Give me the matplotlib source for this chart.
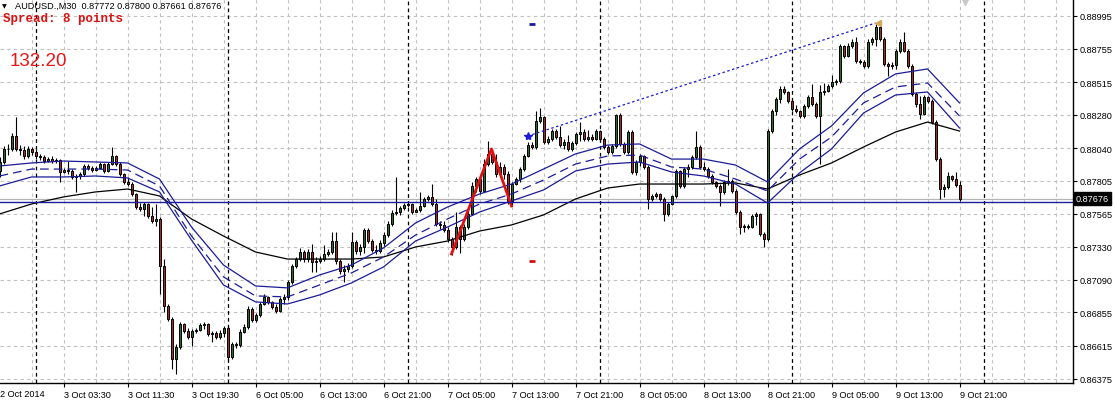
import matplotlib.pyplot as plt
import numpy as np
from matplotlib.transforms import blended_transform_factory

# AUDUSD M30 candles, prices in points (1e-5); open of a bar = close of the bar before
first_open = 87875
close_pts = [
    87940, 88034, 88034, 88127, 88034, 88026, 87983, 88034, 88012, 87983,
    87976, 87947, 87961, 87947, 87954, 87868, 87882, 87875, 87832, 87839,
    87853, 87911, 87897, 87882, 87897, 87925, 87875, 87925, 87983, 87925,
    87853, 87796, 87781, 87709, 87615, 87601, 87637, 87550, 87514, 87529,
    87190, 86902, 86808, 86519, 86606, 86772, 86721, 86678, 86721, 86728,
    86765, 86772, 86700, 86707, 86678, 86707, 86743, 86534, 86627, 86620,
    86714, 86750, 86880, 86801, 86837, 86916, 86967, 86931, 86895, 86866,
    86952, 86967, 87075, 87190, 87240, 87291, 87240, 87291, 87219, 87226,
    87240, 87277, 87291, 87370, 87226, 87154, 87168, 87190, 87363, 87298,
    87327, 87450, 87370, 87305, 87298, 87356, 87413, 87493, 87572, 87579,
    87608, 87630, 87637, 87579, 87594, 87623, 87673, 87688, 87637, 87493,
    87486, 87450, 87385, 87327, 87471, 87385, 87471, 87565, 87767, 87817,
    87731, 87925, 87998, 87940, 87853, 87904, 87853, 87659, 87781, 87817,
    87889, 87983, 88062, 88048, 88236, 88265, 88084, 88106, 88163, 88120,
    88062, 88084, 88034, 88077, 88142, 88156, 88106, 88120, 88106, 88163,
    88106, 88048, 88012, 88055, 88279, 88070, 88012, 88156, 87868, 87940,
    87983, 87904, 87673, 87695, 87709, 87673, 87565, 87637, 87695, 87875,
    87767, 87889, 87904, 87976, 88048, 87904, 87889, 87839, 87796, 87767,
    87724, 87796, 87803, 87731, 87579, 87471, 87478, 87471, 87550, 87565,
    87421, 87385, 88163, 88308, 88394, 88466, 88445, 88380, 88322, 88308,
    88272, 88344, 88409, 88358, 88272, 88445, 88452, 88488, 88517, 88524,
    88776, 88704, 88776, 88805, 88668, 88661, 88632, 88805, 88827, 88913,
    88827, 88647, 88632, 88640, 88740, 88805, 88740, 88632, 88430, 88358,
    88286, 88409, 88380, 88228, 87961, 87745, 87760, 87839, 87817, 87772,
    87676,
]
high_pts = [
    87976, 88055, 88070, 88149, 88265, 88062, 88055, 88055, 88048, 88034,
    87998, 87990, 87976, 87983, 87969, 87961, 87897, 87947, 87889, 87853,
    87868, 87925, 87925, 87911, 87911, 87940, 87933, 87940, 88048, 87990,
    87940, 87861, 87832, 87796, 87716, 87644, 87651, 87644, 87615, 87637,
    87543, 87240, 86916, 86822, 86627, 86786, 86779, 86743, 86736, 86743,
    86779, 86786, 86779, 86721, 86721, 86728, 86757, 86757, 86642, 86642,
    86736, 86772, 86902, 86895, 86851, 86931, 86988, 86974, 86938, 86916,
    86967, 86988, 87089, 87205, 87255, 87320, 87305, 87313, 87349, 87255,
    87262, 87341, 87313, 87435, 87435, 87240, 87197, 87212, 87435, 87377,
    87349, 87464, 87464, 87385, 87341, 87377, 87435, 87514, 87594, 87832,
    87623, 87644, 87651, 87644, 87608, 87724, 87688, 87702, 87781, 87673,
    87514, 87514, 87471, 87399, 87579, 87486, 87493, 87586, 87796, 87832,
    87832, 87961, 88091, 88034, 87998, 87940, 87925, 87875, 87796, 87832,
    87904, 87998, 88084, 88084, 88308, 88330, 88272, 88127, 88178, 88178,
    88200, 88106, 88135, 88091, 88156, 88228, 88178, 88171, 88142, 88178,
    88171, 88120, 88062, 88070, 88286, 88293, 88084, 88171, 88171, 87954,
    87998, 87990, 87918, 87709, 87724, 87716, 87688, 87651, 87702, 87889,
    87882, 87904, 87925, 87990, 88163, 88062, 87940, 87904, 87853, 87803,
    87781, 87810, 87889, 87817, 87745, 87594, 87493, 87493, 87565, 87579,
    87572, 87435, 88178, 88322, 88409, 88488, 88488, 88452, 88394, 88351,
    88315, 88358, 88423, 88503, 88373, 88495, 88510, 88503, 88567, 88539,
    88791, 88784, 88798, 88827, 88841, 88683, 88676, 88827, 88841, 88935,
    88921, 88841, 88661, 88661, 88755, 88827, 88877, 88755, 88647, 88445,
    88416, 88423, 88416, 88394, 88243, 87976, 87781, 87868, 87846, 87868,
    87800,
]
low_pts = [
    87832, 87925, 87990, 88019, 88019, 87990, 87961, 87969, 87990, 87961,
    87954, 87933, 87940, 87933, 87933, 87796, 87861, 87853, 87817, 87724,
    87817, 87839, 87882, 87868, 87875, 87889, 87861, 87868, 87918, 87911,
    87839, 87781, 87767, 87695, 87601, 87586, 87550, 87536, 87500, 87478,
    86988, 86858, 86793, 86447, 86411, 86592, 86707, 86664, 86613, 86707,
    86721, 86736, 86685, 86642, 86664, 86664, 86678, 86505, 86519, 86599,
    86606, 86707, 86736, 86786, 86786, 86822, 86909, 86916, 86880, 86851,
    86858, 86916, 86945, 87060, 87176, 87226, 87219, 87219, 87147, 87147,
    87212, 87226, 87262, 87277, 87205, 87132, 87075, 87147, 87176, 87277,
    87269, 87284, 87356, 87291, 87277, 87284, 87334, 87399, 87478, 87558,
    87558, 87594, 87615, 87565, 87579, 87579, 87615, 87659, 87623, 87478,
    87457, 87435, 87363, 87269, 87313, 87284, 87370, 87457, 87558, 87724,
    87709, 87724, 87911, 87925, 87832, 87832, 87817, 87637, 87623, 87774,
    87796, 87875, 87976, 88034, 88034, 88221, 88070, 88070, 88091, 88106,
    88048, 88034, 88019, 88019, 88062, 88091, 88091, 88091, 88091, 88098,
    88091, 88034, 87998, 87998, 88041, 88055, 87998, 87998, 87853, 87846,
    87911, 87889, 87601, 87659, 87680, 87659, 87514, 87550, 87630, 87680,
    87752, 87752, 87832, 87889, 87961, 87889, 87875, 87825, 87781, 87752,
    87623, 87709, 87774, 87716, 87565, 87421, 87435, 87457, 87464, 87486,
    87406, 87327, 87370, 88149, 88279, 88366, 88430, 88366, 88308, 88293,
    88257, 88257, 88330, 88344, 88257, 87925, 88423, 88445, 88474, 88495,
    88510, 88690, 88697, 88762, 88654, 88647, 88618, 88618, 88784, 88776,
    88812, 88632, 88560, 88611, 88611, 88726, 88733, 88618, 88416, 88337,
    88250, 88279, 88366, 88214, 87947, 87673, 87688, 87745, 87803, 87760,
    87661,
]

# indicator lines read every 8 bars
ma_bars = list(range(0, 241, 8))
env_upper = [87911, 87933, 87947, 87940, 87933, 87817, 87471, 87197, 87046, 87032, 87125,
             87197, 87320, 87500, 87615, 87709, 87781, 87889, 87998, 88062, 88070, 87961,
             87961, 87918, 87796, 88034, 88200, 88438, 88575, 88611, 88366]
env_mid = [87839, 87889, 87889, 87889, 87882, 87767, 87406, 87111, 86974, 86967, 87053,
           87140, 87255, 87413, 87529, 87637, 87709, 87810, 87925, 87983, 87990, 87904,
           87889, 87817, 87731, 87961, 88120, 88366, 88481, 88510, 88272]
env_lower = [87767, 87832, 87832, 87839, 87825, 87724, 87377, 87053, 86931, 86916, 86981,
             87068, 87183, 87370, 87471, 87579, 87659, 87738, 87875, 87925, 87940, 87868,
             87839, 87781, 87644, 87861, 88034, 88293, 88423, 88445, 88185]
ma_slow = [87565, 87637, 87688, 87724, 87745, 87695, 87529, 87406, 87291, 87240, 87240,
           87240, 87255, 87327, 87370, 87442, 87486, 87558, 87673, 87752, 87781, 87781,
           87781, 87789, 87745, 87846, 87933, 88048, 88156, 88228, 88163]

zigzag_bars = [113, 123, 128]
zigzag_pts = [87277, 88034, 87623]
trend_bars = [132, 219]
trend_pts = [88127, 88942]

day_separators = [9, 57, 102, 150, 198, 246]
tick_bars = list(range(0, 241, 16))
tick_labels = ["2 Oct 2014", "3 Oct 03:30", "3 Oct 11:30", "3 Oct 19:30", "6 Oct 05:00",
               "6 Oct 13:00", "6 Oct 21:00", "7 Oct 05:00", "7 Oct 13:00", "7 Oct 21:00",
               "8 Oct 05:00", "8 Oct 13:00", "8 Oct 21:00", "9 Oct 05:00", "9 Oct 13:00",
               "9 Oct 21:00"]
price_ticks = ["0.88995", "0.88755", "0.88515", "0.88280", "0.88040", "0.87805",
               "0.87565", "0.87330", "0.87090", "0.86855", "0.86615", "0.86375"]
bid = 0.87676
hline = 0.87648

c = np.array(close_pts) / 1e5
o = np.array([first_open] + close_pts[:-1]) / 1e5
hi = np.array(high_pts) / 1e5
lo = np.array(low_pts) / 1e5
idx = np.arange(len(c))

plt.rcParams['font.family'] = ['Liberation Sans', 'DejaVu Sans']
fig = plt.figure(figsize=(11.15, 4.02), dpi=100)
ax = fig.add_axes([0, 1 - 384 / 402, 1073 / 1115, 384 / 402])
ax.set_xlim(0.125, 268.375)
ax.set_ylim(0.863461, 0.891154)

grid_kw = dict(color='#c0c0c0', lw=0.8, ls=(0, (3, 3)), zorder=0)
for b in range(8, 268, 8):
    ax.axvline(b, **grid_kw)
for t in price_ticks:
    ax.axhline(float(t), **grid_kw)
for b in day_separators:
    ax.axvline(b, color='black', lw=0.9, ls=(0, (3, 2.5)), zorder=1)

ax.axhline(bid, color='#b4b4b4', lw=0.9, zorder=2)

up = c > o
dn = ~up
ax.vlines(idx, lo, hi, color='black', lw=0.8, zorder=3)
ax.bar(idx[up], (c - o)[up], bottom=o[up], width=0.5, color='#2b6a2b',
       edgecolor='black', lw=0.7, zorder=4)
ax.bar(idx[dn], (o - c)[dn], bottom=c[dn], width=0.5, color='#a52a2a',
       edgecolor='black', lw=0.7, zorder=4)

mb = np.array(ma_bars)
ax.plot(mb, np.array(ma_slow) / 1e5, color='black', lw=0.9, zorder=5)
ax.plot(mb, np.array(env_upper) / 1e5, color='#1c1c96', lw=0.9, zorder=5)
ax.plot(mb, np.array(env_mid) / 1e5, color='#1c1c96', lw=0.9, ls=(0, (7, 4)), zorder=5)
ax.plot(mb, np.array(env_lower) / 1e5, color='#1c1c96', lw=0.9, zorder=5)

ax.plot(zigzag_bars, np.array(zigzag_pts) / 1e5, color='#e01010', lw=2, zorder=6)
ax.plot(trend_bars, np.array(trend_pts) / 1e5, color='#1a1acc', lw=0.9, ls=(0, (2, 2)), zorder=6)
ax.plot([132], [0.88127], marker='*', color='#1a1ae0', ms=6, zorder=7)
ax.plot([219.6], [0.88942], marker='<', color='#d2aa5a', ms=4.5, zorder=7)
ax.plot([133], [0.88935], marker='_', color='#1a1aa0', ms=5, mew=2, zorder=7)
ax.plot([133], [0.87226], marker='_', color='#d01010', ms=5, mew=2, zorder=7)
ax.plot([241.4], [0.89118], marker='v', color='#c8c8c8', ms=8, zorder=7, clip_on=True)

ax.axhline(hline, color='#1c1c9c', lw=1.0, zorder=6)

for s in ['left', 'top']:
    ax.spines[s].set_visible(False)
for s in ['right', 'bottom']:
    ax.spines[s].set_color('black')
    ax.spines[s].set_linewidth(1)

ax.yaxis.tick_right()
ax.set_yticks([float(t) for t in price_ticks])
ax.set_yticklabels(price_ticks)
ax.set_xticks(tick_bars[1:])
ax.set_xticklabels(tick_labels[1:], ha='left')
ax.tick_params(axis='both', labelsize=6.6, length=3, width=0.8, color='black', pad=2)
fig.text(0.5 / 1115, 1 - 395 / 402, tick_labels[0], fontsize=6.6, va='center', ha='left')

tr = blended_transform_factory(ax.transAxes, ax.transData)
ax.text(1.0025, bid, "0.87676", transform=tr, fontsize=6.6, color='white', va='center',
        ha='left', bbox=dict(boxstyle='square,pad=0.2', fc='black', ec='black'), zorder=8)

fig.text(2 / 1115, 1 - 6.5 / 402, "\u25bc", fontsize=4.5, va='center', ha='left',
         family=['DejaVu Sans'])
fig.text(15 / 1115, 1 - 6.5 / 402, "AUDUSD.,M30  0.87772 0.87800 0.87661 0.87676",
         fontsize=6.6, va='center', ha='left')
fig.text(3 / 1115, 1 - 19 / 402, "Spread: 8 points", fontsize=9, fontweight='bold',
         color='#d81414', va='center', ha='left', family=['Liberation Mono', 'DejaVu Sans Mono'])
fig.text(10 / 1115, 1 - 62 / 402, "132.20", fontsize=13.5, color='#e81818',
         va='center', ha='left')

fig.savefig('out.png', dpi=100)
